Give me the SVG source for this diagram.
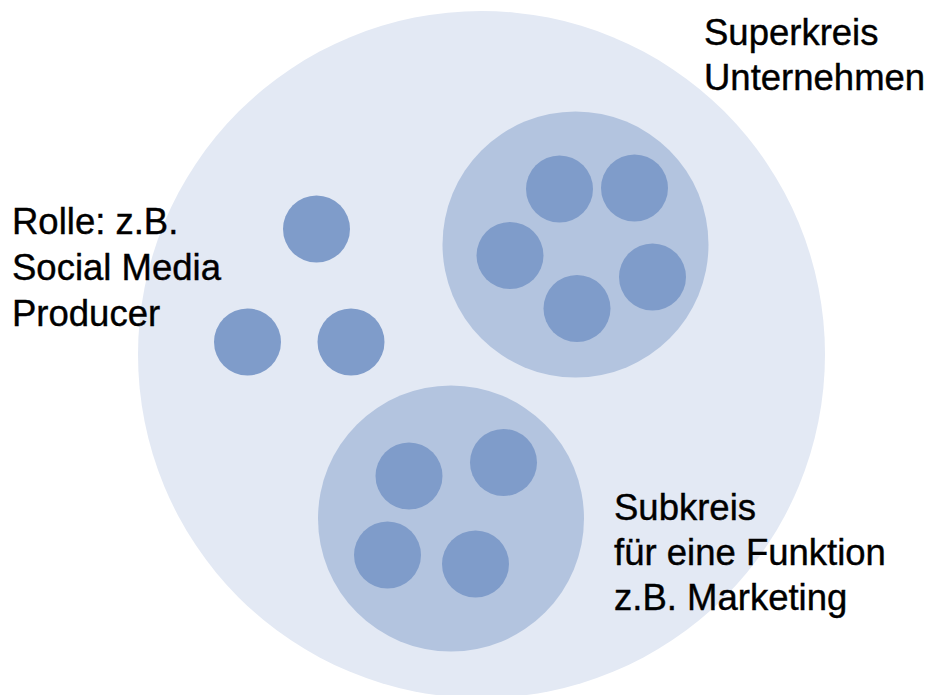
<svg xmlns="http://www.w3.org/2000/svg" width="928" height="695" viewBox="0 0 928 695">
<style>
.super{fill:#E3E9F4}
.sub{fill:#B3C4DF}
.role{fill:#7F9CCA}
.lbl{font-family:"Liberation Sans",Arial,sans-serif;font-size:36.5px;fill:#000;stroke:#000;stroke-width:0.4}
</style>
<rect width="928" height="695" fill="#FFFFFF"/>
<g id="superkreis">
<circle class="super" cx="481.5" cy="354.5" r="343.5"/>
</g>
<g id="subkreis-oben">
<circle class="sub" cx="575.5" cy="244.5" r="133"/>
<circle class="role" cx="559.5" cy="189" r="33.5"/>
<circle class="role" cx="634.5" cy="188" r="33.5"/>
<circle class="role" cx="510" cy="255.5" r="33.5"/>
<circle class="role" cx="652.5" cy="277" r="33.5"/>
<circle class="role" cx="577" cy="308.5" r="33.5"/>
</g>
<g id="subkreis-unten">
<circle class="sub" cx="451" cy="518.5" r="133"/>
<circle class="role" cx="409" cy="476" r="33.5"/>
<circle class="role" cx="503.5" cy="462.5" r="33.5"/>
<circle class="role" cx="387.5" cy="555" r="33.5"/>
<circle class="role" cx="475.5" cy="564" r="33.5"/>
</g>
<g id="rollen">
<circle class="role" cx="316.5" cy="229" r="33.5"/>
<circle class="role" cx="247.5" cy="342" r="33.5"/>
<circle class="role" cx="351" cy="342" r="33.5"/>
</g>
<g id="connectors"></g>
<g id="label-superkreis">
<text class="lbl" x="704" y="45">Superkreis</text>
<text class="lbl" x="704" y="90">Unternehmen</text>
</g>
<g id="label-rolle">
<text class="lbl" x="12" y="234">Rolle: z.B.</text>
<text class="lbl" x="12" y="280">Social Media</text>
<text class="lbl" x="12" y="326">Producer</text>
</g>
<g id="label-subkreis">
<text class="lbl" x="614" y="520">Subkreis</text>
<text class="lbl" x="614" y="565">für eine Funktion</text>
<text class="lbl" x="614" y="610">z.B. Marketing</text>
</g>
</svg>
